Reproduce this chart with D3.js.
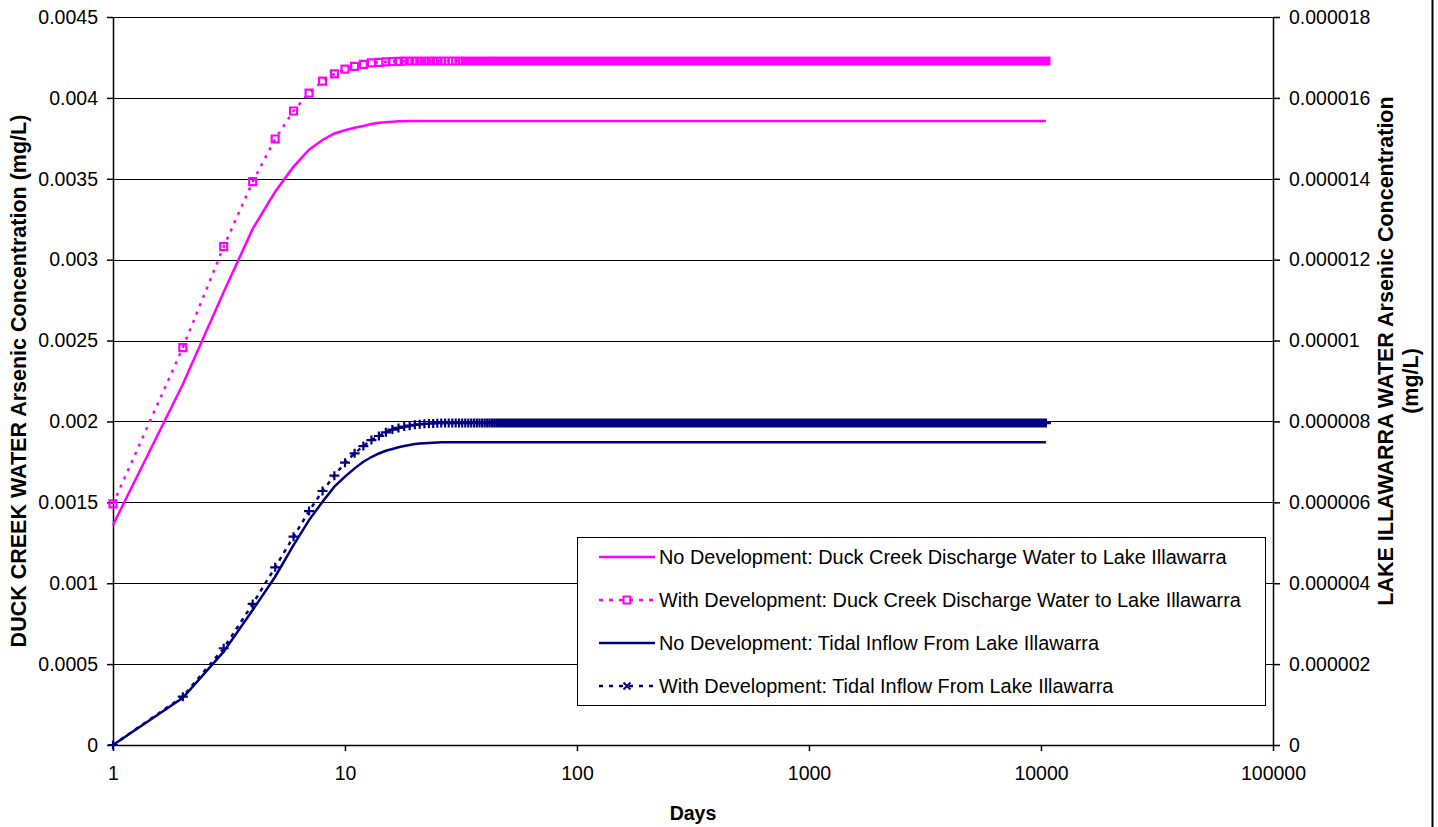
<!DOCTYPE html>
<html>
<head>
<meta charset="utf-8">
<script src="https://cdn.jsdelivr.net/npm/d3@7"></script>
<style>
    body { margin: 0; background: #fff; }
    svg { display: block; font-family: "Liberation Sans", Arial, sans-serif; }
    .axis text { font-size: 19.5px; fill: #000; }
    .axis path, .axis line { stroke: #000; }
</style>
</head>
<body>
<div id="chart"></div>
<script>
// days 1, 2, 3 ...; after the listed days each series stays at its steady value
const lastDay = 10500;

// Duck Creek discharge water (left axis, mg/L)
const duckNoDev = [0.00136, 0.00223, 0.00280, 0.00319, 0.00342, 0.003575, 0.00368, 0.00374, 0.00378, 0.0038,
    0.003815, 0.003826, 0.003838, 0.003846, 0.00385, 0.003853, 0.003855, 0.003856];
const duckNoDevSteady = 0.003857;

const duckDev = [0.00149, 0.002456, 0.00308, 0.003482, 0.003746, 0.003919, 0.00403, 0.004104, 0.004148, 0.004178,
    0.004195, 0.004207, 0.004216, 0.00422, 0.004223, 0.004225, 0.004226, 0.004227];
const duckDevSteady = 0.004228;

// tidal inflow from Lake Illawarra (right axis, mg/L)
const tidalNoDev = [0, 1.168e-6, 2.308e-6, 3.336e-6, 4.16e-6, 4.944e-6, 5.56e-6, 6.016e-6, 6.388e-6, 6.636e-6,
    6.84e-6, 7.004e-6, 7.12e-6, 7.208e-6, 7.276e-6, 7.32e-6, 7.36e-6, 7.392e-6, 7.416e-6, 7.44e-6,
    7.452e-6, 7.462e-6, 7.47e-6, 7.476e-6, 7.48e-6];
const tidalNoDevSteady = 7.484e-6;

const tidalDev = [0, 1.196e-6, 2.392e-6, 3.488e-6, 4.392e-6, 5.152e-6, 5.784e-6, 6.28e-6, 6.66e-6, 6.98e-6,
    7.212e-6, 7.392e-6, 7.54e-6, 7.64e-6, 7.732e-6, 7.8e-6, 7.84e-6, 7.872e-6, 7.896e-6, 7.916e-6,
    7.93e-6, 7.94e-6, 7.948e-6, 7.952e-6, 7.956e-6];
const tidalDevSteady = 7.96e-6;

const leftTicks = [0, 0.0005, 0.001, 0.0015, 0.002, 0.0025, 0.003, 0.0035, 0.004, 0.0045];
const leftTickLabels = ["0", "0.0005", "0.001", "0.0015", "0.002", "0.0025", "0.003", "0.0035", "0.004", "0.0045"];
const rightTicks = [0, 2e-6, 4e-6, 6e-6, 8e-6, 1e-5, 1.2e-5, 1.4e-5, 1.6e-5, 1.8e-5];
const rightTickLabels = ["0", "0.000002", "0.000004", "0.000006", "0.000008", "0.00001", "0.000012", "0.000014", "0.000016", "0.000018"];
const xTicks = [1, 10, 100, 1000, 10000, 100000];
const xTickLabels = ["1", "10", "100", "1000", "10000", "100000"];

const legendLabels = [
    "No Development: Duck Creek Discharge Water to Lake Illawarra",
    "With Development: Duck Creek Discharge Water to Lake Illawarra",
    "No Development: Tidal Inflow From Lake Illawarra",
    "With Development: Tidal Inflow From Lake Illawarra"
];

const width = 1438, height = 827;
const plotLeft = 113, plotRight = 1273, plotTop = 17, plotBottom = 745;
const pink = "#ff00ff", navy = "#000080";

// one point per day
function daily(early, steady) {
    return d3.range(1, lastDay + 1).map(day => ({
        day: day,
        value: day <= early.length ? early[day - 1] : steady
    }));
}

const series = [
    { data: daily(duckNoDev, duckNoDevSteady), axis: "left", color: pink, dash: null, marker: null },
    { data: daily(duckDev, duckDevSteady), axis: "left", color: pink, dash: "3,6", marker: "square" },
    { data: daily(tidalNoDev, tidalNoDevSteady), axis: "right", color: navy, dash: null, marker: null },
    { data: daily(tidalDev, tidalDevSteady), axis: "right", color: navy, dash: "4,5", marker: "plus" }
];

const svg = d3.select("#chart").append("svg")
    .attr("width", width)
    .attr("height", height);

const x = d3.scaleLog().domain([1, 100000]).range([plotLeft, plotRight]);
const yLeft = d3.scaleLinear().domain([0, 0.0045]).range([plotBottom, plotTop]);
const yRight = d3.scaleLinear().domain([0, 0.000018]).range([plotBottom, plotTop]);

// gridlines
svg.append("g")
    .selectAll("line")
    .data(leftTicks.slice(1))
    .join("line")
    .attr("x1", plotLeft)
    .attr("x2", plotRight)
    .attr("y1", d => Math.round(yLeft(d)) + 0.5)
    .attr("y2", d => Math.round(yLeft(d)) + 0.5)
    .attr("stroke", "#000")
    .attr("stroke-width", 1)
    .attr("shape-rendering", "crispEdges");

// axes
svg.append("g")
    .attr("class", "axis")
    .attr("transform", `translate(${plotLeft},0)`)
    .call(d3.axisLeft(yLeft).tickValues(leftTicks).tickFormat((d, i) => leftTickLabels[i])
        .tickSize(6).tickSizeOuter(0).tickPadding(9))
    .call(g => g.selectAll("path, line").attr("stroke-width", 1.5));

svg.append("g")
    .attr("class", "axis")
    .attr("transform", `translate(${plotRight},0)`)
    .call(d3.axisRight(yRight).tickValues(rightTicks).tickFormat((d, i) => rightTickLabels[i])
        .tickSize(7).tickSizeOuter(0).tickPadding(9))
    .call(g => g.selectAll("path, line").attr("stroke-width", 1.5));

svg.append("g")
    .attr("class", "axis")
    .attr("transform", `translate(0,${plotBottom})`)
    .call(d3.axisBottom(x).tickValues(xTicks).tickFormat((d, i) => xTickLabels[i])
        .tickSize(6).tickSizeOuter(0).tickPadding(15))
    .call(g => g.selectAll("path, line").attr("stroke-width", 1.5));

// axis titles
svg.append("text")
    .attr("transform", `translate(26,${(plotTop + plotBottom) / 2}) rotate(-90)`)
    .attr("text-anchor", "middle")
    .attr("font-size", 21.5)
    .attr("font-weight", "bold")
    .text("DUCK CREEK WATER Arsenic Concentration (mg/L)");

svg.append("text")
    .attr("transform", `translate(1393,351) rotate(-90)`)
    .attr("text-anchor", "middle")
    .attr("font-size", 21.5)
    .attr("font-weight", "bold")
    .text("LAKE ILLAWARRA WATER Arsenic Concentration");

svg.append("text")
    .attr("transform", `translate(1418,381) rotate(-90)`)
    .attr("text-anchor", "middle")
    .attr("font-size", 21.5)
    .attr("font-weight", "bold")
    .text("(mg/L)");

svg.append("text")
    .attr("x", (plotLeft + plotRight) / 2)
    .attr("y", 820)
    .attr("text-anchor", "middle")
    .attr("font-size", 19.5)
    .attr("font-weight", "bold")
    .text("Days");

// chart area border on the right
svg.append("line")
    .attr("x1", 1432.5).attr("x2", 1432.5)
    .attr("y1", 0).attr("y2", height)
    .attr("stroke", "#000")
    .attr("stroke-width", 2);

// lines and markers
const plot = svg.append("g");

function drawMarker(g, type, color) {
    if (type === "square") {
        g.append("rect")
            .attr("x", -3.5).attr("y", -3.5)
            .attr("width", 7).attr("height", 7)
            .attr("fill", "none")
            .attr("stroke", color)
            .attr("stroke-width", 2);
    } else if (type === "plus") {
        g.append("path")
            .attr("d", "M-3.5,-3.5L3.5,3.5M-3.5,3.5L3.5,-3.5")
            .attr("stroke", color)
            .attr("stroke-width", 2)
            .attr("fill", "none");
    }
}

series.forEach(s => {
    const y = s.axis === "left" ? yLeft : yRight;
    const line = d3.line()
        .x(d => x(d.day))
        .y(d => y(d.value));

    plot.append("path")
        .datum(s.data)
        .attr("d", line)
        .attr("fill", "none")
        .attr("stroke", s.color)
        .attr("stroke-width", 2.5)
        .attr("stroke-dasharray", s.dash);

    if (s.marker) {
        // all markers in one path so ten thousand days stay cheap
        const pathStr = s.data.map(d => {
            const px = x(d.day), py = y(d.value);
            return s.marker === "square"
                ? `M${px - 3.5},${py - 3.5}h7v7h-7Z`
                : `M${px - 5},${py}h10M${px},${py - 4.5}v9`;
        }).join("");
        plot.append("path")
            .attr("d", pathStr)
            .attr("fill", "none")
            .attr("stroke", s.color)
            .attr("stroke-width", 2.2);
    }
});

// legend
const legend = svg.append("g");

legend.append("rect")
    .attr("x", 577.5)
    .attr("y", 537.5)
    .attr("width", 688)
    .attr("height", 168)
    .attr("fill", "#fff")
    .attr("stroke", "#000")
    .attr("stroke-width", 1);

const legendY = d3.scalePoint().domain(d3.range(legendLabels.length)).range([557, 686]);

legendLabels.forEach((label, i) => {
    const s = series[i];
    const ly = legendY(i);
    const item = legend.append("g");

    item.append("line")
        .attr("x1", 599).attr("x2", 655)
        .attr("y1", ly).attr("y2", ly)
        .attr("stroke", s.color)
        .attr("stroke-width", 2.5)
        .attr("stroke-dasharray", s.dash ? "4,6" : null);

    if (s.marker) {
        const m = item.append("g").attr("transform", `translate(627,${ly})`);
        drawMarker(m, s.marker, s.color);
    }

    item.append("text")
        .attr("x", 659)
        .attr("y", ly)
        .attr("dy", "0.35em")
        .attr("font-size", 19.9)
        .text(label);
});
</script>
</body>
</html>
